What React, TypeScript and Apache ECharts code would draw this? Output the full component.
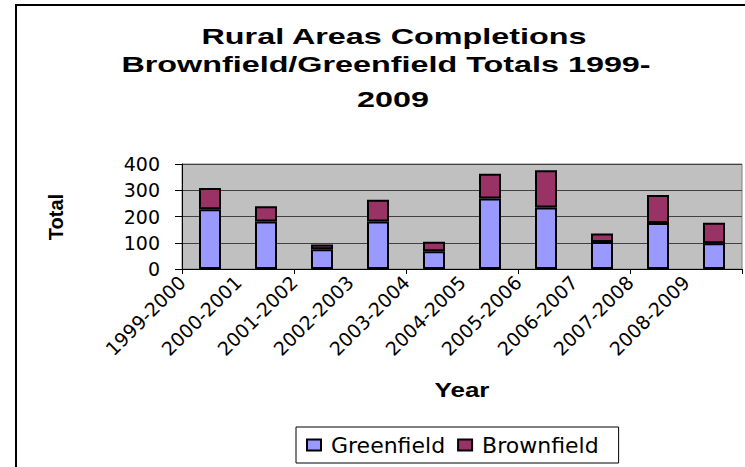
import React, { useEffect, useRef } from "react";
import * as echarts from "echarts";

const categories = [
  "1999-2000",
  "2000-2001",
  "2001-2002",
  "2002-2003",
  "2003-2004",
  "2004-2005",
  "2005-2006",
  "2006-2007",
  "2007-2008",
  "2008-2009",
];
// labels sit on the category boundaries (last boundary unlabeled)
const xTickLabels = [...categories, ""];
const greenfield = [228, 181, 75, 181, 68, 269, 234, 103, 175, 98];
const brownfield = [81, 58, 18, 83, 36, 94, 142, 32, 107, 78];
const yTicks = { min: 0, max: 400, interval: 100 };
const titleLines = [
  "Rural Areas Completions",
  "Brownfield/Greenfield Totals 1999-",
  "2009",
];
const seriesNames = ["Greenfield", "Brownfield"];

const TICK_FONT = '"DejaVu Sans", "Liberation Sans", Arial, sans-serif';
const BOLD_FONT = '"Liberation Sans", Arial, sans-serif';

export default function App() {
  const ref = useRef<HTMLDivElement>(null);

  useEffect(() => {
    if (!ref.current) return;
    const chart = echarts.init(ref.current, null, { renderer: "svg" });
    const titleX = [394, 386, 393];
    const titleY = [36, 64, 99];
    chart.setOption({
      animation: false,
      backgroundColor: "#ffffff",
      grid: {
        left: 182,
        top: 164,
        right: 3,
        bottom: 198,
        show: true,
        backgroundColor: "#C0C0C0",
        borderColor: "#808080",
        borderWidth: 1,
      },
      legend: {
        data: seriesNames,
        left: 296,
        top: 427,
        orient: "horizontal",
        padding: [7, 20, 7, 10],
        itemWidth: 14,
        itemHeight: 11,
        itemGap: 12,
        icon: "rect",
        borderColor: "#000",
        borderWidth: 1,
        backgroundColor: "#fff",
        textStyle: {
          fontFamily: TICK_FONT,
          fontSize: 22,
          color: "#000",
          padding: [0, 0, 0, 5],
        },
      },
      xAxis: [
        {
          type: "category",
          data: categories,
          gridIndex: 0,
          boundaryGap: true,
          axisLine: { show: true, lineStyle: { color: "#000", width: 1 } },
          axisTick: { show: true, length: 5, lineStyle: { color: "#000" } },
          axisLabel: { show: false },
          splitLine: { show: false },
        },
        {
          type: "category",
          data: xTickLabels,
          gridIndex: 0,
          position: "bottom",
          boundaryGap: false,
          axisLine: { show: false },
          axisTick: { show: false },
          splitLine: { show: false },
          axisLabel: {
            show: true,
            interval: 0,
            rotate: 45,
            margin: 10,
            fontFamily: TICK_FONT,
            fontSize: 19,
            color: "#000",
          },
        },
      ],
      yAxis: {
        type: "value",
        min: yTicks.min,
        max: yTicks.max,
        interval: yTicks.interval,
        axisLine: { show: true, lineStyle: { color: "#000", width: 1 } },
        axisTick: { show: true, length: 7, lineStyle: { color: "#000" } },
        axisLabel: {
          margin: 22,
          fontFamily: TICK_FONT,
          fontSize: 19,
          color: "#000",
        },
        splitLine: { show: true, lineStyle: { color: "#404040", width: 1 } },
      },
      series: [
        {
          name: seriesNames[0],
          type: "bar",
          stack: "total",
          xAxisIndex: 0,
          data: greenfield,
          barWidth: 22,
          itemStyle: { color: "#9999FF", borderColor: "#000", borderWidth: 2 },
        },
        {
          name: seriesNames[1],
          type: "bar",
          stack: "total",
          xAxisIndex: 0,
          data: brownfield,
          barWidth: 22,
          itemStyle: { color: "#993366", borderColor: "#000", borderWidth: 2 },
        },
      ],
      graphic: [
        {
          type: "rect",
          shape: { x: 16, y: 5, width: 760, height: 480 },
          style: { fill: "none", stroke: "#000", lineWidth: 2 },
          silent: true,
        },
        ...titleLines.map((t, i) => ({
          type: "text",
          x: titleX[i],
          y: titleY[i],
          scaleX: 1.47,
          style: {
            text: t,
            fontFamily: BOLD_FONT,
            fontWeight: "bold",
            fontSize: 22,
            fill: "#000",
            align: "center",
            verticalAlign: "middle",
          },
        })),
        {
          type: "text",
          x: 462,
          y: 390,
          scaleX: 1.3,
          style: {
            text: "Year",
            fontFamily: BOLD_FONT,
            fontWeight: "bold",
            fontSize: 20,
            fill: "#000",
            align: "center",
            verticalAlign: "middle",
          },
        },
        {
          type: "text",
          x: 56,
          y: 217,
          rotation: Math.PI / 2,
          style: {
            text: "Total",
            fontFamily: BOLD_FONT,
            fontWeight: "bold",
            fontSize: 20,
            fill: "#000",
            align: "center",
            verticalAlign: "middle",
          },
        },
      ],
    });
    return () => chart.dispose();
  }, []);

  return (
    <div
      ref={ref}
      style={{ position: "absolute", left: 0, top: 0, width: 745, height: 467 }}
    />
  );
}
